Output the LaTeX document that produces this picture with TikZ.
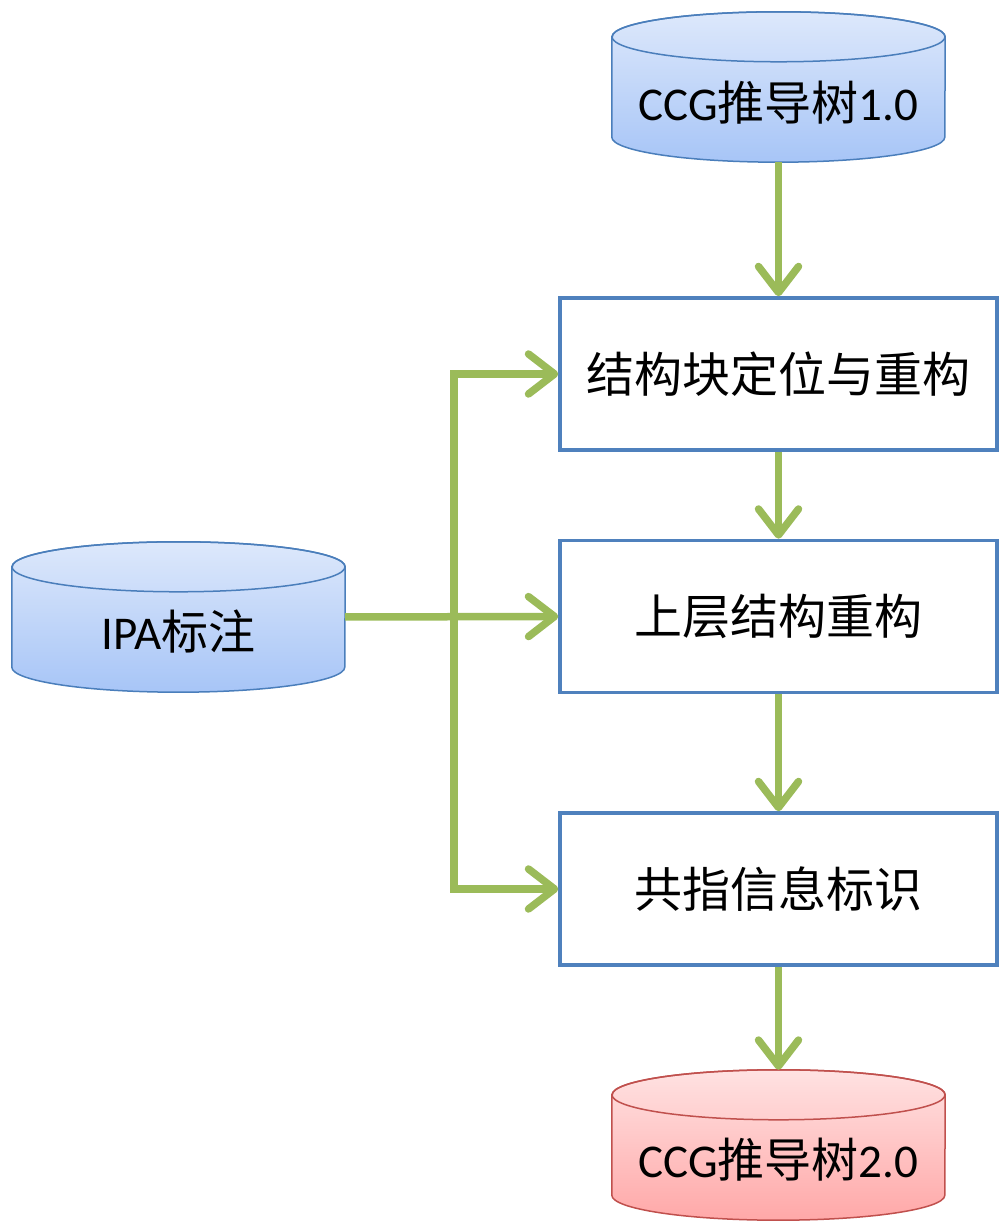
\documentclass[tikz,border=0pt]{standalone}
\usepackage{fontspec}
\setmainfont{Carlito}
\newfontfamily\cjk{Noto Sans CJK SC}
\usetikzlibrary{arrows.meta,positioning}

\definecolor{flowgreen}{HTML}{9BBB59}
\definecolor{boxblue}{HTML}{4F81BD}
\definecolor{bluetop}{HTML}{DDE8FB}
\definecolor{bluebot}{HTML}{A7C5F7}
\definecolor{blueline}{HTML}{4A7EBB}
\definecolor{redtop}{HTML}{FFE2E2}
\definecolor{redbot}{HTML}{FFA8A8}
\definecolor{redline}{HTML}{C0504D}

\tikzset{
  stage/.style={draw=boxblue, line width=3.5pt, fill=white, minimum width=437pt,
    minimum height=152pt, inner sep=0pt, font=\fontsize{48}{52}\selectfont\cjk},
  drum/.style={minimum width=333pt, minimum height=150pt, inner sep=0pt},
  drumtext/.style={inner sep=0pt, font=\fontsize{47}{50}\selectfont},
  flow/.style={draw=flowgreen, line width=7.5pt,
    -{Straight Barb[length=26pt,width=40pt,round]}},
}

%% cylinder drawn round a named node: name, top colour, bottom colour, line colour
\newcommand\drawdrum[4]{
  \shade[top color=#2, bottom color=#3, draw=#4, line width=1.5pt]
    ([yshift=-25pt]#1.north west) -- ([yshift=25pt]#1.south west)
    arc[start angle=180, end angle=360, x radius=166.5pt, y radius=25pt]
    -- ([yshift=-25pt]#1.north east)
    arc[start angle=0, end angle=180, x radius=166.5pt, y radius=25pt] -- cycle;
  \draw[#4, line width=1.5pt]
    ([yshift=-25pt]#1.north) ellipse[x radius=166.5pt, y radius=25pt];
}

\begin{document}
\begin{tikzpicture}[x=1pt, y=1pt]

\useasboundingbox (0,0) rectangle (999,1222); %% page size

%% data
\node[drum] (tree1) at (778.5,1135) {};
\drawdrum{tree1}{bluetop}{bluebot}{blueline}
\node[drumtext] (tree1txt) at ([yshift=-16pt]tree1.center) {CCG{\cjk 推导树}1.0};

\node[drum] (ipa) at (178.5,605) {};
\drawdrum{ipa}{bluetop}{bluebot}{blueline}
\node[drumtext] (ipatxt) at ([yshift=-15pt]ipa.center) {IPA{\cjk 标注}};

\node[drum] (tree2) at (778.5,77) {};
\drawdrum{tree2}{redtop}{redbot}{redline}
\node[drumtext] (tree2txt) at ([yshift=-15pt]tree2.center) {CCG{\cjk 推导树}2.0};

%% steps
\node[stage] (locate) at (778.5,848) {结构块定位与重构};
\node[stage] (upper) at (778.5,605.5) {上层结构重构};
\node[stage] (coref) at (778.5,333) {共指信息标识};

\coordinate (bus) at (454,605);

\draw[flow] (tree1) -- (locate);
\draw[flow] (locate) -- (upper);
\draw[flow] (upper) -- (coref);
\draw[flow] (coref) -- (tree2);

\draw[flow] (ipa.east) -- (upper.west);
\draw[flow] (bus) |- (locate.west);
\draw[flow] (bus) |- (coref.west);

\end{tikzpicture}
\end{document}
